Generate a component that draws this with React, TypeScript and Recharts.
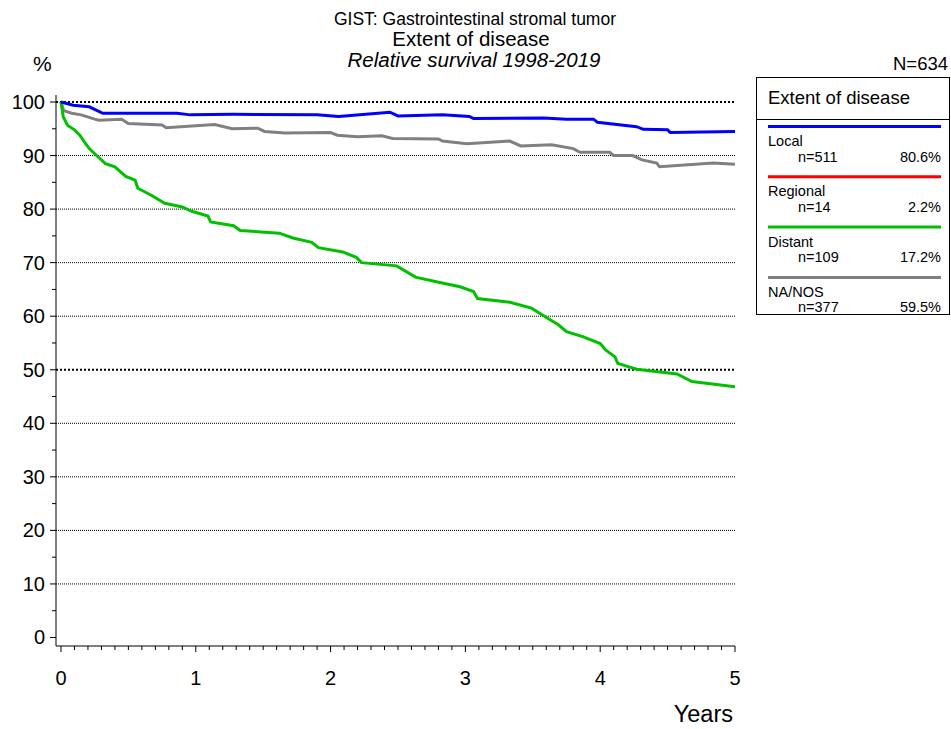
import { LineChart, Line, XAxis, YAxis, ReferenceLine, Legend } from "recharts";

const groups = ["Local", "Regional", "Distant", "NA/NOS"];
const groupN = [511, 14, 109, 377];
const groupPct = ["80.6%", "2.2%", "17.2%", "59.5%"];
const groupColors = ["#0000ff", "#ff0000", "#00c000", "#808080"];

const yearTicks = [0, 1, 2, 3, 4, 5];
const percentTicks = [0, 10, 20, 30, 40, 50, 60, 70, 80, 90, 100];

const localYears = [0, 0.09, 0.21, 0.31, 0.86, 0.96, 1.28, 1.9, 2.06, 2.44, 2.5, 2.83, 3.03, 3.06, 3.58, 3.75, 3.95, 3.98, 4.27, 4.32, 4.5, 4.52, 5];
const localSurv = [100, 99.4, 99.1, 97.9, 97.9, 97.6, 97.7, 97.6, 97.3, 98.1, 97.4, 97.6, 97.3, 96.9, 97.0, 96.8, 96.8, 96.2, 95.4, 94.9, 94.8, 94.3, 94.5];

const distantYears = [0, 0.017, 0.05, 0.1, 0.14, 0.18, 0.21, 0.26, 0.33, 0.4, 0.48, 0.55, 0.57, 0.67, 0.77, 0.9, 0.97, 1.09, 1.11, 1.28, 1.33, 1.62, 1.72, 1.86, 1.91, 2.09, 2.19, 2.23, 2.49, 2.63, 2.81, 2.96, 3.06, 3.09, 3.33, 3.49, 3.61, 3.69, 3.75, 3.87, 4.0, 4.04, 4.11, 4.13, 4.27, 4.57, 4.68, 5];
const distantSurv = [100, 97.2, 95.6, 94.8, 93.8, 92.3, 91.3, 90.1, 88.5, 87.9, 86.1, 85.4, 83.9, 82.6, 81.1, 80.4, 79.6, 78.7, 77.6, 76.9, 76.0, 75.5, 74.6, 73.8, 72.8, 72.0, 71.0, 70.0, 69.4, 67.3, 66.3, 65.5, 64.6, 63.3, 62.6, 61.5, 59.6, 58.4, 57.1, 56.2, 54.9, 53.7, 52.4, 51.2, 50.1, 49.2, 47.8, 46.8];

const nosYears = [0, 0.02, 0.08, 0.15, 0.25, 0.28, 0.45, 0.5, 0.75, 0.78, 1.14, 1.27, 1.46, 1.51, 1.66, 2.0, 2.05, 2.2, 2.38, 2.46, 2.8, 2.83, 3.01, 3.33, 3.41, 3.64, 3.8, 3.85, 4.07, 4.1, 4.24, 4.31, 4.42, 4.44, 4.84, 5];
const nosSurv = [100, 98.4, 97.9, 97.6, 96.8, 96.6, 96.8, 96.0, 95.7, 95.2, 95.8, 95.0, 95.1, 94.5, 94.2, 94.3, 93.8, 93.5, 93.7, 93.2, 93.1, 92.7, 92.2, 92.7, 91.8, 92.0, 91.3, 90.6, 90.6, 90.0, 90.0, 89.2, 88.6, 87.9, 88.6, 88.4];

const toPoints = (ts: number[], vs: number[]) => ts.map((t, i) => ({ t, v: vs[i] }));
const localData = toPoints(localYears, localSurv);
const distantData = toPoints(distantYears, distantSurv);
const nosData = toPoints(nosYears, nosSurv);

// minor ticks: every 0.1 year, every 5 %
const xTicks: number[] = [];
for (let i = 0; i <= yearTicks[yearTicks.length - 1] * 10; i++) xTicks.push(i / 10);
const yTicks: number[] = [];
for (let i = 0; i <= 20; i++) yTicks.push(i * 5);

const font = "'Liberation Sans', Arial, sans-serif";

const YTick = (props: any) => {
  const { x, y, payload } = props;
  const v = payload.value;
  const major = percentTicks.includes(v);
  return (
    <g>
      <line x1={x - (major ? 6 : 4)} x2={x} y1={y} y2={y} stroke="#000" strokeWidth={1} />
      {major && (
        <text x={x - 11} y={y + 7} textAnchor="end" fontSize={20} fontFamily={font} fill="#000">
          {v}
        </text>
      )}
    </g>
  );
};

const XTick = (props: any) => {
  const { x, y, payload } = props;
  const v = payload.value;
  const major = Math.abs(v - Math.round(v)) < 1e-6;
  return (
    <g>
      <line x1={x} x2={x} y1={y} y2={y + (major ? 6 : 4)} stroke="#000" strokeWidth={1} />
      {major && (
        <text x={x} y={y + 39} textAnchor="middle" fontSize={20} fontFamily={font} fill="#000">
          {Math.round(v)}
        </text>
      )}
    </g>
  );
};

const LegendBox = () => (
  <svg width={195} height={240} style={{ display: "block" }}>
    <rect x={0.5} y={0.5} width={193} height={237} fill="#fff" stroke="#000" strokeWidth={1} />
    <text x={12} y={27} fontSize={18.5} fontFamily={font} fill="#000">Extent of disease</text>
    <line x1={0.5} x2={193.5} y1={42.5} y2={42.5} stroke="#000" strokeWidth={1} />
    {groups.map((g, k) => {
      const ly = 49.5 + 50.3 * k;
      return (
        <g key={g}>
          <line x1={12} x2={185} y1={ly} y2={ly} stroke={groupColors[k]} strokeWidth={3} />
          <text x={12} y={ly + 19.5} fontSize={14.5} fontFamily={font} fill="#000">{g}</text>
          <text x={42} y={ly + 35} fontSize={14.5} fontFamily={font} fill="#000">n={groupN[k]}</text>
          <text x={185} y={ly + 35} fontSize={14.5} fontFamily={font} fill="#000" textAnchor="end">{groupPct[k]}</text>
        </g>
      );
    })}
  </svg>
);

export default function App() {
  return (
    <div style={{ position: "absolute", left: 0, top: 0, width: 951, height: 729, background: "#fff" }}>
      <LineChart width={951} height={729} margin={{ top: 95, right: 216, bottom: 43, left: 0 }}>
        <XAxis
          type="number"
          dataKey="t"
          domain={[-0.037, 5]}
          allowDataOverflow
          ticks={xTicks}
          interval={0}
          tick={<XTick />}
          tickLine={false}
          tickSize={0}
          tickMargin={0}
          height={40}
          axisLine={{ stroke: "#000", strokeWidth: 1 }}
        />
        <YAxis
          type="number"
          domain={[-1.59, 101.31]}
          allowDataOverflow
          ticks={yTicks}
          interval={0}
          tick={<YTick />}
          tickLine={false}
          tickSize={0}
          tickMargin={0}
          width={56}
          axisLine={{ stroke: "#000", strokeWidth: 1 }}
        />
        {percentTicks
          .filter((p) => p > 0)
          .map((p) => (
            <ReferenceLine
              key={p}
              y={p}
              stroke="#000"
              strokeWidth={p % 50 === 0 ? 2 : 1}
              strokeDasharray={p % 50 === 0 ? "2 2" : "1 1"}
            />
          ))}
        <Line data={nosData} dataKey="v" type="linear" stroke={groupColors[3]} strokeWidth={3} dot={false} activeDot={false} isAnimationActive={false} />
        <Line data={distantData} dataKey="v" type="linear" stroke={groupColors[2]} strokeWidth={3} dot={false} activeDot={false} isAnimationActive={false} />
        <Line data={localData} dataKey="v" type="linear" stroke={groupColors[0]} strokeWidth={3} dot={false} activeDot={false} isAnimationActive={false} />
        <Legend
          layout="vertical"
          align="center"
          verticalAlign="middle"
          content={() => <LegendBox />}
          wrapperStyle={{ left: 756, top: 77, width: 195, height: 240 }}
        />
      </LineChart>
      <svg width={951} height={729} style={{ position: "absolute", left: 0, top: 0, pointerEvents: "none" }}>
        <text x={475} y={25} textAnchor="middle" fontSize={17.5} fontFamily={font}>GIST: Gastrointestinal stromal tumor</text>
        <text x={471} y={46} textAnchor="middle" fontSize={20.5} fontFamily={font}>Extent of disease</text>
        <text x={474} y={67} textAnchor="middle" fontSize={20.5} fontStyle="italic" fontFamily={font}>Relative survival 1998-2019</text>
        <text x={33} y={71} fontSize={21} fontFamily={font}>%</text>
        <text x={948} y={70} textAnchor="end" fontSize={18.5} fontFamily={font}>N=634</text>
        <text x={733} y={722} textAnchor="end" fontSize={23.5} fontFamily={font}>Years</text>
      </svg>
    </div>
  );
}
